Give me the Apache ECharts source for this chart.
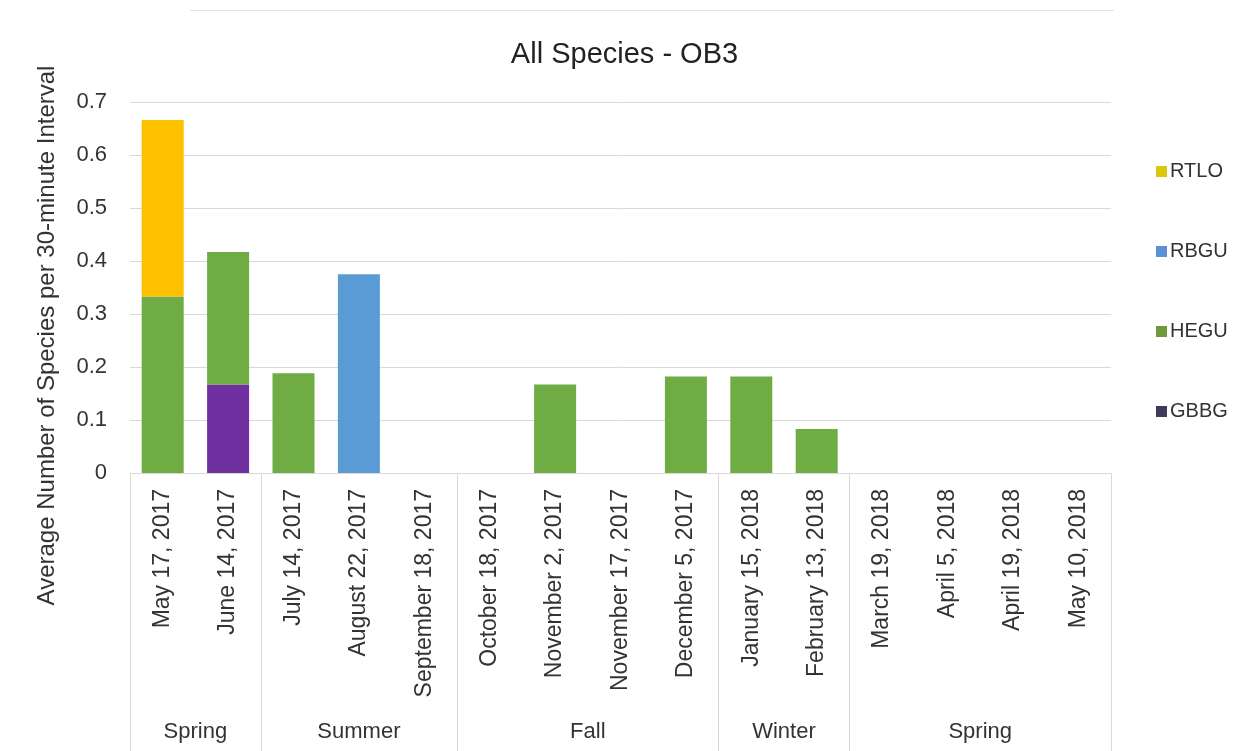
<!DOCTYPE html>
<html>
<head>
<meta charset="utf-8">
<title>All Species - OB3</title>
<script src="https://cdn.jsdelivr.net/npm/echarts@6/dist/echarts.min.js"></script>
<style>
  html, body { margin: 0; padding: 0; background: #ffffff; }
  #chart { width: 1249px; height: 751px; }
</style>
</head>
<body>
<div id="chart"></div>
<script>
// Survey dates (category axis)
const surveyDates = [
  'May 17, 2017', 'June 14, 2017',
  'July 14, 2017', 'August 22, 2017', 'September 18, 2017',
  'October 18, 2017', 'November 2, 2017', 'November 17, 2017', 'December 5, 2017',
  'January 15, 2018', 'February 13, 2018',
  'March 19, 2018', 'April 5, 2018', 'April 19, 2018', 'May 10, 2018'
];

// Season groups along the axis and how many survey dates each covers
const seasonNames = ['Spring', 'Summer', 'Fall', 'Winter', 'Spring'];
const seasonSpans = [2, 3, 4, 2, 4];

// Average number per 30-minute interval, by species
const gbbgValues = [0, 0.167, 0, 0, 0, 0, 0, 0, 0, 0, 0, 0, 0, 0, 0];
const heguValues = [0.333, 0.25, 0.188, 0, 0, 0, 0.167, 0, 0.182, 0.182, 0.083, 0, 0, 0, 0];
const rbguValues = [0, 0, 0, 0.375, 0, 0, 0, 0, 0, 0, 0, 0, 0, 0, 0];
const rtloValues = [0.333, 0, 0, 0, 0, 0, 0, 0, 0, 0, 0, 0, 0, 0, 0];

// Y axis ticks
const yTicks = [0, 0.1, 0.2, 0.3, 0.4, 0.5, 0.6, 0.7];

// Season boundaries and label centres, in category units
const seasonBounds = [0];
const seasonCenters = [];
seasonSpans.forEach(function (n) {
  const start = seasonBounds[seasonBounds.length - 1];
  seasonCenters.push(start + n / 2);
  seasonBounds.push(start + n);
});

const FONT = '"Liberation Sans", Arial, sans-serif';
const TEXT = '#333333';
const GRID = '#d9d9d9';

const chart = echarts.init(document.getElementById('chart'), null, { renderer: 'canvas' });

function barSeries(name, data, color) {
  return {
    name: name,
    type: 'bar',
    stack: 'total',
    xAxisIndex: 0,
    barWidth: 42,
    data: data,
    itemStyle: { color: color },
    emphasis: { disabled: true }
  };
}

chart.setOption({
  backgroundColor: '#ffffff',
  animation: false,
  title: {
    text: 'All Species - OB3',
    left: 'center',
    top: 35,
    padding: [5, 0, 5, 12],
    textStyle: { fontFamily: FONT, fontSize: 29, fontWeight: 'normal', color: '#222222' }
  },
  legend: {
    orient: 'vertical',
    left: 1151,
    top: 156,
    itemWidth: 11,
    itemHeight: 11,
    itemGap: 59,
    icon: 'rect',
    textStyle: { fontFamily: FONT, fontSize: 20, color: TEXT, lineHeight: 21, padding: [0, 0, 0, -2] },
    data: [
      { name: 'RTLO', itemStyle: { color: '#d9c80c' } },
      { name: 'RBGU', itemStyle: { color: '#5b8fd6' } },
      { name: 'HEGU', itemStyle: { color: '#6e9a3c' } },
      { name: 'GBBG', itemStyle: { color: '#3d3b5a' } }
    ],
    selectedMode: false
  },
  grid: { left: 130, right: 138, top: 102, bottom: 278, containLabel: false },
  xAxis: [
    {
      type: 'category',
      data: surveyDates,
      axisLine: { show: true, lineStyle: { color: GRID, width: 1 } },
      axisTick: { show: false },
      axisLabel: {
        rotate: 90,
        margin: 16,
        interval: 0,
        fontFamily: FONT,
        fontSize: 23,
        color: TEXT
      },
      splitLine: { show: false }
    },
    {
      type: 'value',
      position: 'bottom',
      min: 0,
      max: surveyDates.length,
      axisLine: { show: false },
      splitLine: { show: false },
      axisTick: {
        show: true,
        customValues: seasonBounds,
        length: 280,
        lineStyle: { color: GRID, width: 1 }
      },
      axisLabel: {
        show: true,
        customValues: seasonCenters,
        margin: 248,
        fontFamily: FONT,
        fontSize: 22,
        color: TEXT,
        formatter: function (v) {
          const i = seasonCenters.indexOf(v);
          return i >= 0 ? seasonNames[i] : '';
        }
      }
    }
  ],
  yAxis: {
    type: 'value',
    min: yTicks[0],
    max: yTicks[yTicks.length - 1],
    interval: 0.1,
    name: 'Average Number of Species per 30-minute Interval',
    nameLocation: 'middle',
    nameGap: 71,
    nameRotate: 90,
    nameTextStyle: { fontFamily: FONT, fontSize: 24, color: TEXT, padding: [0, 96, 0, 0] },
    axisLine: { show: false },
    axisTick: { show: false },
    axisLabel: {
      margin: 23,
      fontFamily: FONT,
      fontSize: 22,
      color: TEXT,
      formatter: function (v) { return String(Math.round(v * 10) / 10); }
    },
    splitLine: { show: true, lineStyle: { color: GRID, width: 1 } }
  },
  graphic: [
    {
      type: 'line',
      shape: { x1: 190, y1: 10.5, x2: 1114, y2: 10.5 },
      style: { stroke: '#e2e2e2', lineWidth: 1 },
      silent: true
    }
  ],
  series: [
    barSeries('GBBG', gbbgValues, '#7030A0'),
    barSeries('HEGU', heguValues, '#6FAD44'),
    barSeries('RBGU', rbguValues, '#5B9BD5'),
    barSeries('RTLO', rtloValues, '#FFC000')
  ]
});
</script>
</body>
</html>
